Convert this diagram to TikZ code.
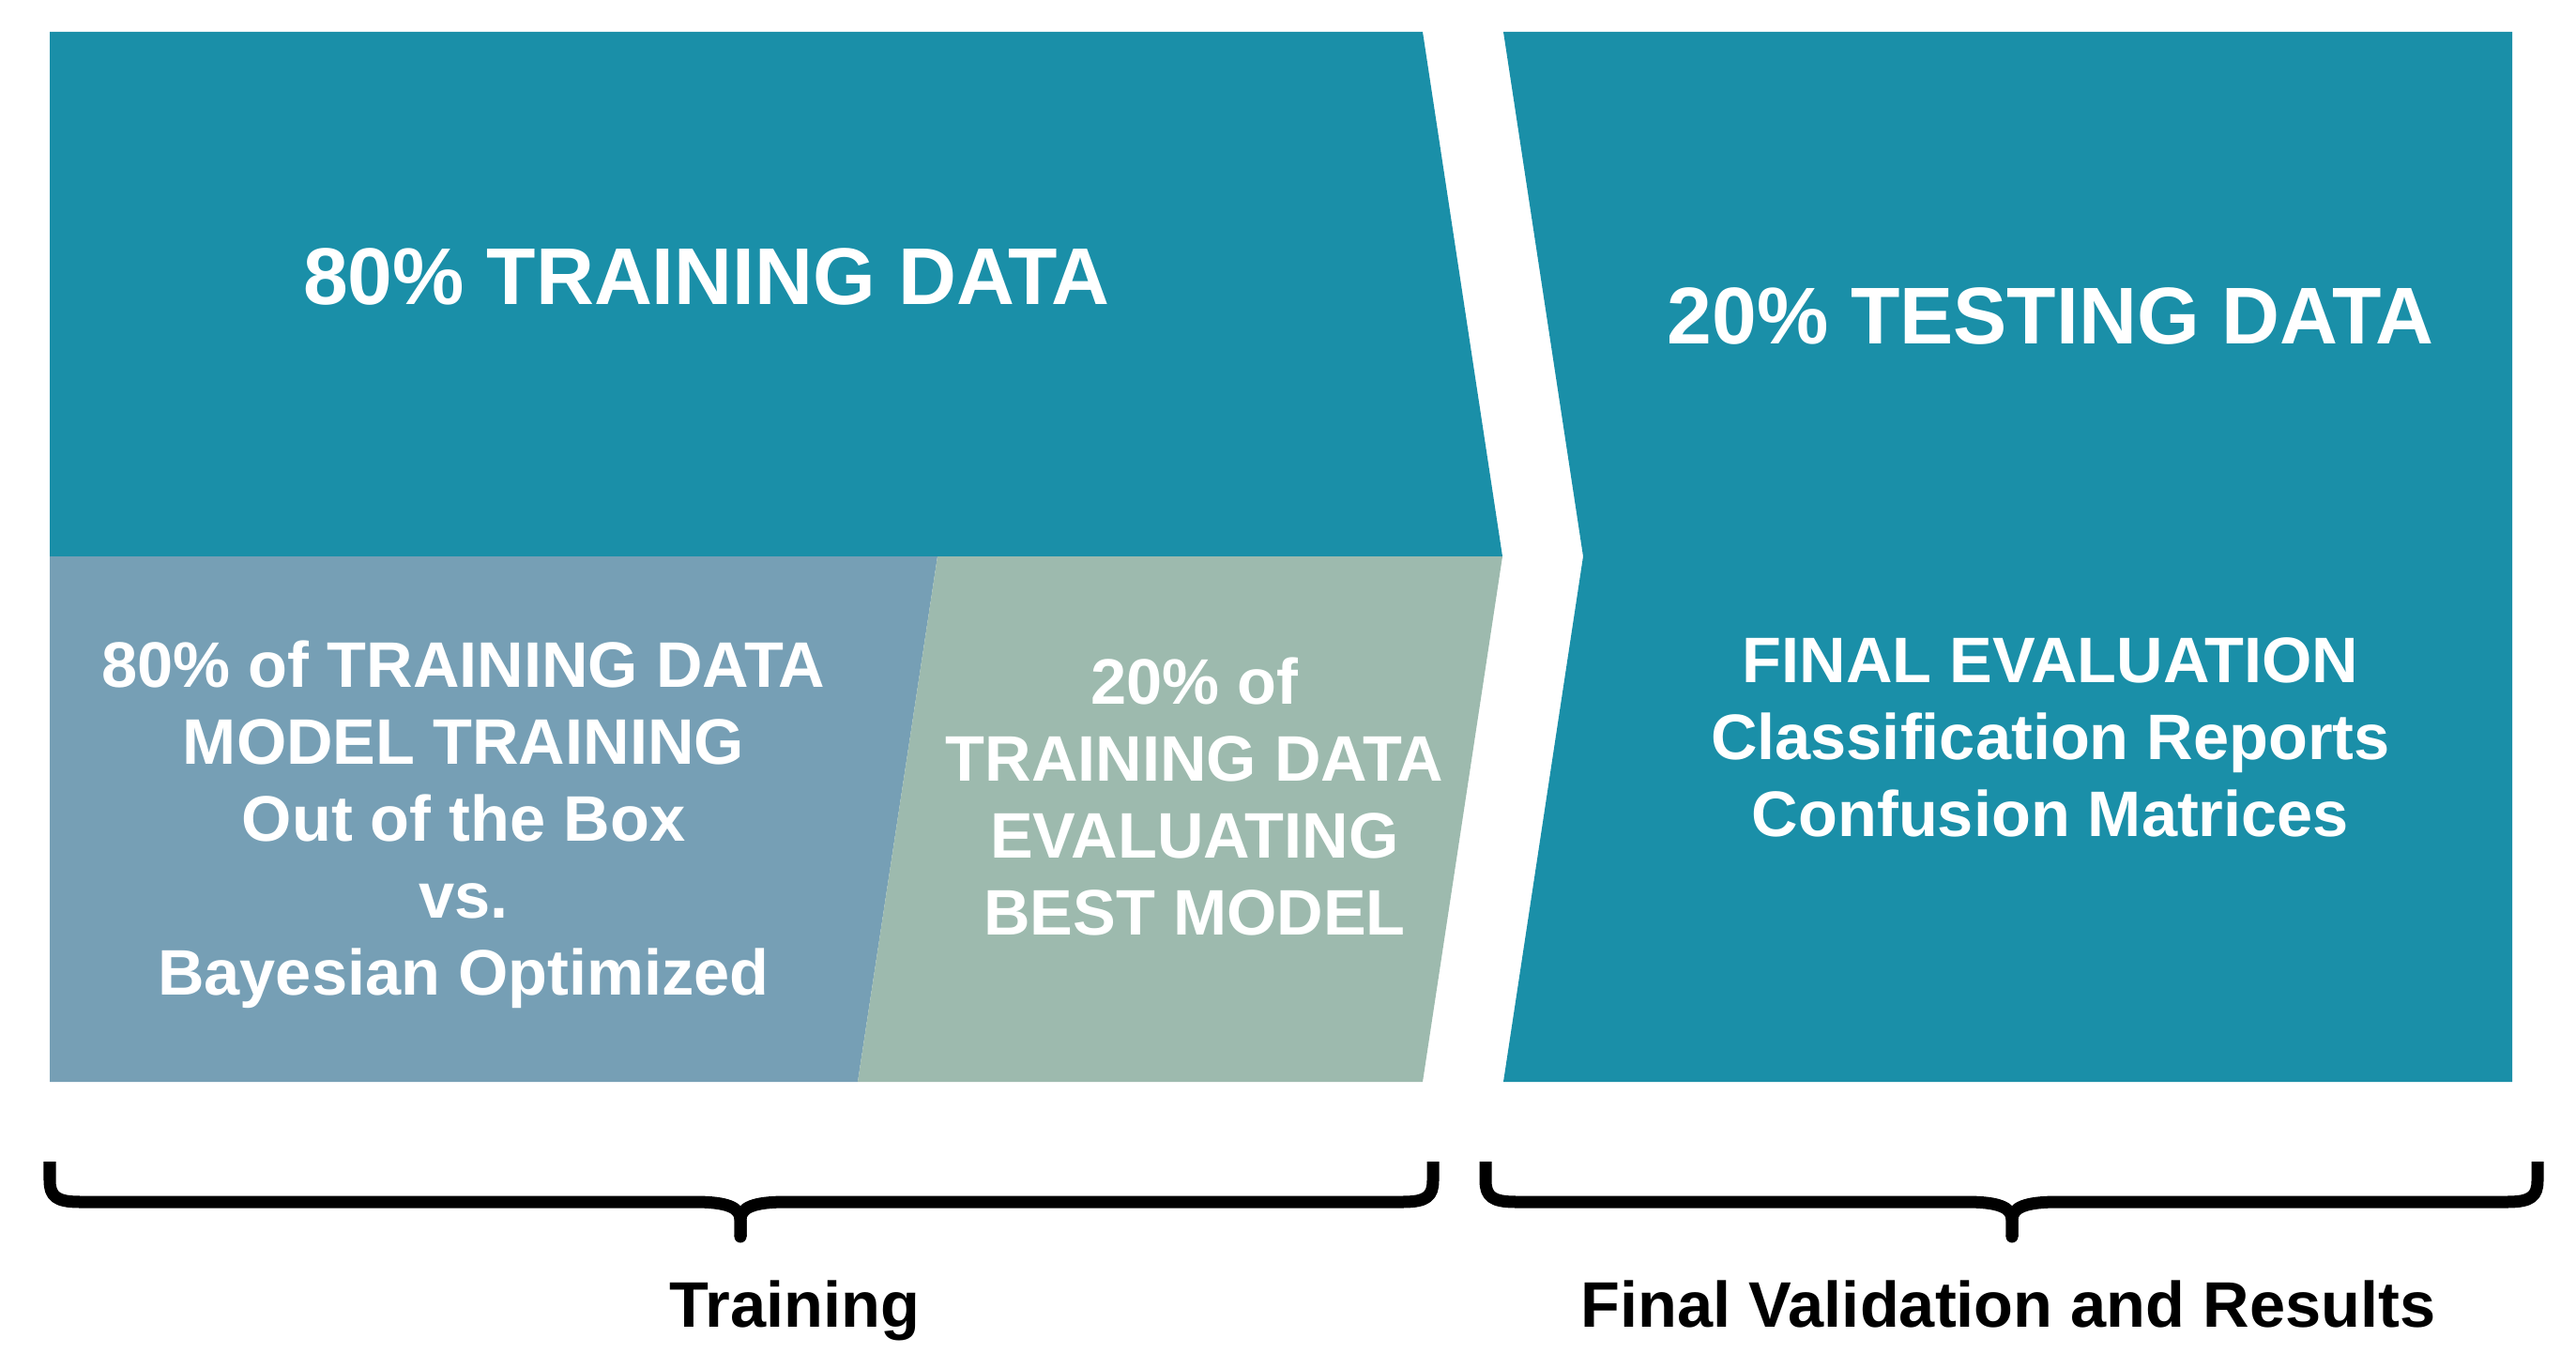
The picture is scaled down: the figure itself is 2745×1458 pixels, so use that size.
\documentclass[tikz,border=0pt]{standalone}
\usepackage{fontspec}
\setmainfont{Liberation Sans}
\definecolor{teal}{RGB}{26,143,168}
\definecolor{bluegrey}{RGB}{118,159,181}
\definecolor{sage}{RGB}{157,186,174}
\begin{document}
\begin{tikzpicture}[x=0.01cm,y=-0.01cm,
  bigtxt/.style={text=white,font=\fontsize{24.4}{29}\selectfont\bfseries,align=center,inner sep=0pt},
  midtxt/.style={text=white,font=\fontsize{19.5}{23.3}\selectfont\bfseries,align=center,inner sep=0pt},
  lbltxt/.style={text=black,font=\fontsize{19.5}{23}\selectfont\bfseries,align=center,inner sep=0pt,anchor=base},
  bracestyle/.style={line width=0.13cm,black,line cap=butt,line join=round}]
\useasboundingbox (0,0) rectangle (2745,1458);
% shapes
\fill[teal] (53,34) -- (1516,34) -- (1601,593) -- (53,593) -- cycle;
\fill[bluegrey] (53,593) -- (999,593) -- (914,1153) -- (53,1153) -- cycle;
\fill[sage] (999,593) -- (1601,593) -- (1516,1153) -- (914,1153) -- cycle;
\fill[teal] (1602,34) -- (2677,34) -- (2677,1153) -- (1602,1153) -- (1687,593) -- cycle;
% texts
\node[bigtxt] (train) at (753,295) {80\% TRAINING DATA};
\node[bigtxt] (test) at (2185,337) {20\% TESTING DATA};
\node[midtxt,anchor=north] (model) at (494,682) {80\% of TRAINING DATA\\MODEL TRAINING\\Out of the Box\\vs.\\Bayesian Optimized};
\node[midtxt,anchor=north] (best) at (1273,700) {20\% of\\TRAINING DATA\\EVALUATING\\BEST MODEL};
\node[midtxt,anchor=north] (final) at (2185,679) {FINAL EVALUATION\\Classification Reports\\Confusion Matrices};
% braces
\coordinate (b1l) at (53,1238);
\coordinate (b1m) at (789,1318);
\coordinate (b1r) at (1527,1238);
\draw[bracestyle] (b1l) -- (53,1258) .. controls (53,1275) and (60,1281) .. (85,1281) -- (740,1281) .. controls (775,1281) and (789,1287) .. (789,1300) -- (b1m);
\draw[bracestyle] (b1r) -- (1527,1258) .. controls (1527,1275) and (1520,1281) .. (1495,1281) -- (838,1281) .. controls (803,1281) and (789,1287) .. (789,1300) -- (b1m);
\fill (b1m) circle (6.5);
\coordinate (b2l) at (1583,1238);
\coordinate (b2m) at (2144,1318);
\coordinate (b2r) at (2704,1238);
\draw[bracestyle] (b2l) -- (1583,1258) .. controls (1583,1275) and (1590,1281) .. (1615,1281) -- (2095,1281) .. controls (2130,1281) and (2144,1287) .. (2144,1300) -- (b2m);
\draw[bracestyle] (b2r) -- (2704,1258) .. controls (2704,1275) and (2697,1281) .. (2672,1281) -- (2193,1281) .. controls (2158,1281) and (2144,1287) .. (2144,1300) -- (b2m);
\fill (b2m) circle (6.5);
\node[lbltxt] (lt) at (847,1414) {Training};
\node[lbltxt] (lv) at (2140,1414) {Final Validation and Results};
\end{tikzpicture}
\end{document}
